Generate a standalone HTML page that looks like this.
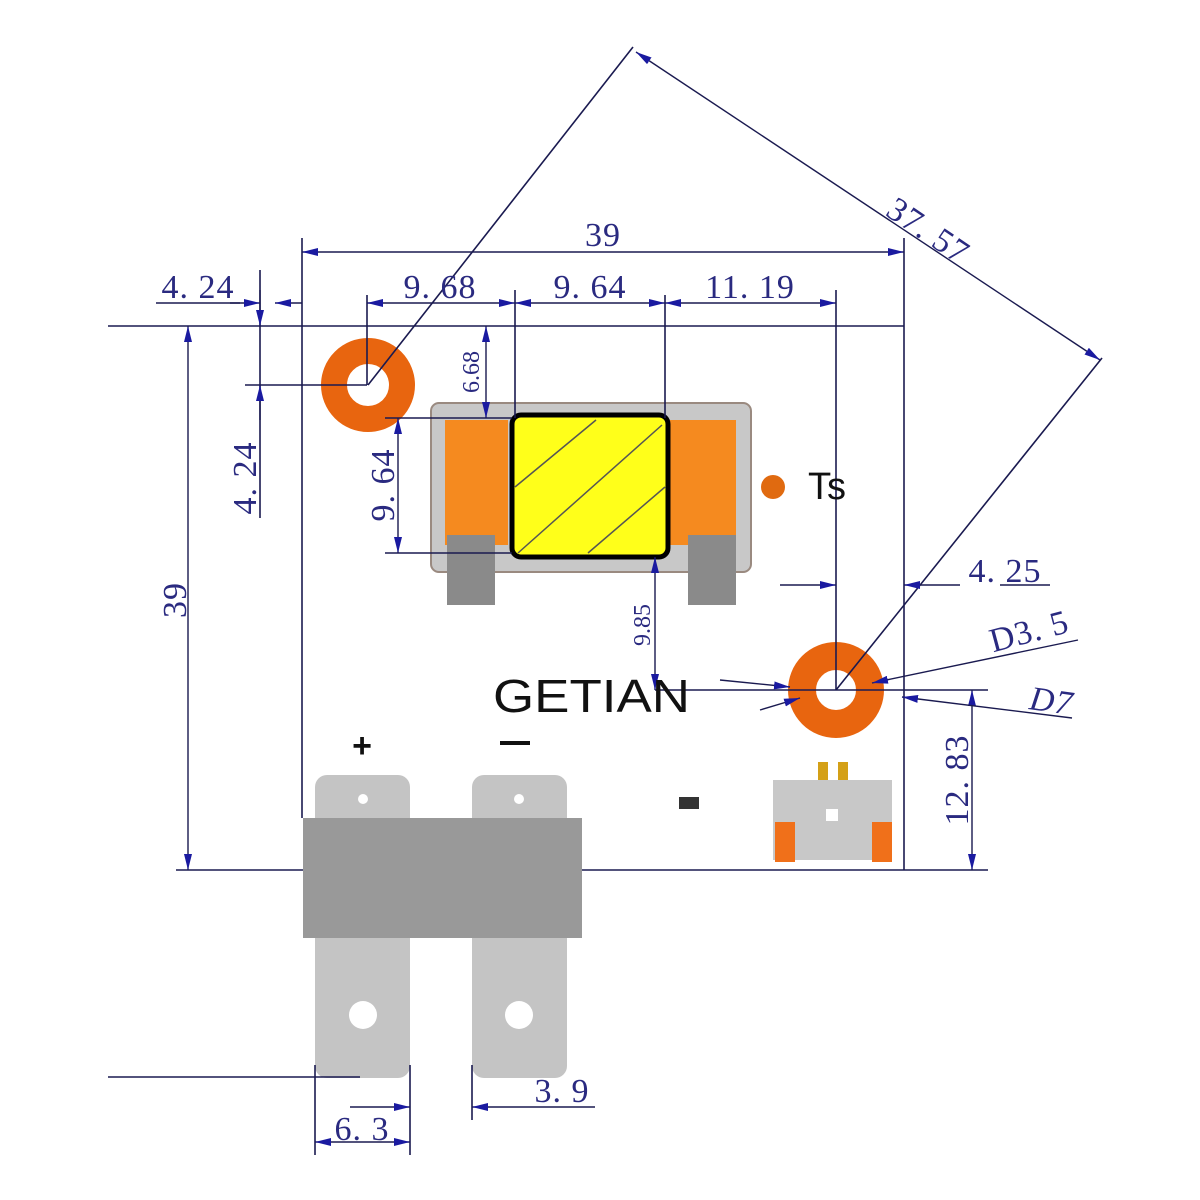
<!DOCTYPE html>
<html><head><meta charset="utf-8"><style>html,body{margin:0;padding:0;background:#fff}svg{display:block}</style></head>
<body>
<svg width="1200" height="1200" viewBox="0 0 1200 1200" xmlns="http://www.w3.org/2000/svg">
<defs>
<marker id="a" viewBox="0 0 16 8" refX="16" refY="4" markerWidth="16" markerHeight="8" orient="auto-start-reverse" markerUnits="userSpaceOnUse"><path d="M0,0 L16,4 L0,8 Z" fill="#1a1aa0"/></marker>
</defs>
<rect width="1200" height="1200" fill="#fff"/>
<rect x="431" y="403" width="320" height="169" rx="8" fill="#c8c8c8" stroke="#9a8a80" stroke-width="2"/>
<rect x="445" y="420" width="63" height="125" fill="#f58a1f"/>
<rect x="670" y="420" width="66" height="125" fill="#f58a1f"/>
<rect x="447" y="535" width="48" height="70" fill="#8a8a8a"/>
<rect x="688" y="535" width="48" height="70" fill="#8a8a8a"/>
<rect x="512" y="415" width="156" height="142" rx="9" fill="#ffff1a" stroke="#000" stroke-width="5"/>
<g stroke="#555" stroke-width="1.5"><line x1="515" y1="487" x2="596" y2="420"/><line x1="518" y1="553" x2="662" y2="425"/><line x1="588" y1="553" x2="665" y2="487"/></g>
<circle cx="368" cy="385" r="34" fill="none" stroke="#e8650f" stroke-width="26"/>
<circle cx="836" cy="690" r="34" fill="none" stroke="#e8650f" stroke-width="28"/>
<circle cx="773" cy="487" r="12" fill="#e06a10"/>
<rect x="315" y="775" width="95" height="303" rx="12" fill="#c4c4c4"/>
<rect x="472" y="775" width="95" height="303" rx="12" fill="#c4c4c4"/>
<rect x="303" y="818" width="279" height="120" fill="#999"/>
<circle cx="363" cy="799" r="5" fill="#fff"/><circle cx="519" cy="799" r="5" fill="#fff"/>
<circle cx="363" cy="1015" r="14" fill="#fff"/><circle cx="519" cy="1015" r="14" fill="#fff"/>
<rect x="679" y="797" width="20" height="12" fill="#333"/>
<rect x="818" y="762" width="10" height="20" fill="#d4a017"/><rect x="838" y="762" width="10" height="20" fill="#d4a017"/>
<rect x="773" y="780" width="119" height="80" fill="#c8c8c8"/>
<rect x="775" y="822" width="20" height="40" fill="#f0701a"/><rect x="872" y="822" width="20" height="40" fill="#f0701a"/>
<rect x="826" y="809" width="12" height="12" fill="#fff"/>
<g stroke="#1a1a50" stroke-width="1.6" fill="none">
<line x1="108" y1="326" x2="904" y2="326"/>
<line x1="302" y1="238" x2="302" y2="818"/>
<line x1="904" y1="238" x2="904" y2="870"/>
<line x1="176" y1="870" x2="303" y2="870"/><line x1="582" y1="870" x2="988" y2="870"/>
<line x1="260" y1="270" x2="260" y2="518"/>
<line x1="367" y1="295" x2="367" y2="385"/>
<line x1="515" y1="290" x2="515" y2="418"/>
<line x1="665" y1="295" x2="665" y2="418"/>
<line x1="836" y1="290" x2="836" y2="690"/>
<line x1="245" y1="385" x2="367" y2="385"/>
<line x1="385" y1="418" x2="512" y2="418"/>
<line x1="385" y1="553" x2="512" y2="553"/>
<line x1="655" y1="690" x2="988" y2="690"/>
<line x1="368" y1="385" x2="633" y2="47"/>
<line x1="836" y1="690" x2="1102" y2="358"/>
<line x1="108" y1="1077" x2="360" y2="1077"/>
<line x1="315" y1="1065" x2="315" y2="1155"/>
<line x1="410" y1="1065" x2="410" y2="1155"/>
<line x1="472" y1="1065" x2="472" y2="1120"/>
<line x1="156" y1="303" x2="240" y2="303"/>
<line x1="1000" y1="585" x2="1050" y2="585"/>
<line x1="780" y1="585" x2="800" y2="585"/>
</g>
<g stroke="#1a1a50" stroke-width="1.4" fill="none" marker-end="url(#a)" marker-start="url(#a)">
<line x1="302" y1="252" x2="904" y2="252"/>
<line x1="188" y1="326" x2="188" y2="870"/>
<line x1="367" y1="303" x2="515" y2="303"/>
<line x1="515" y1="303" x2="665" y2="303"/>
<line x1="665" y1="303" x2="836" y2="303"/>
<line x1="486" y1="326" x2="486" y2="418"/>
<line x1="398" y1="418" x2="398" y2="553"/>
<line x1="655" y1="557" x2="655" y2="690"/>
<line x1="972" y1="690" x2="972" y2="870"/>
<line x1="636" y1="52" x2="1100" y2="360"/>
<line x1="315" y1="1142" x2="410" y2="1142"/>
</g>
<g stroke="#1a1a50" stroke-width="1.4" fill="none" marker-end="url(#a)">
<line x1="230" y1="303" x2="260" y2="303"/>
<line x1="302" y1="303" x2="275" y2="303"/>
<line x1="260" y1="290" x2="260" y2="326"/>
<line x1="260" y1="420" x2="260" y2="385"/>
<line x1="800" y1="585" x2="836" y2="585"/>
<line x1="960" y1="585" x2="904" y2="585"/>
<line x1="350" y1="1107" x2="410" y2="1107"/>
<line x1="595" y1="1107" x2="472" y2="1107"/>
<line x1="720" y1="680" x2="790" y2="687"/>
<line x1="1078" y1="640" x2="872" y2="683"/>
<line x1="760" y1="710" x2="800" y2="698"/>
<line x1="1072" y1="718" x2="902" y2="697"/>
</g>
<g font-family="Liberation Serif, serif" font-size="34" fill="#2a2a80" letter-spacing="1">
<text x="603" y="246" text-anchor="middle">39</text>
<text x="198" y="298" text-anchor="middle">4. 24</text>
<text x="440" y="298" text-anchor="middle">9. 68</text>
<text x="590" y="298" text-anchor="middle">9. 64</text>
<text x="750" y="298" text-anchor="middle">11. 19</text>
<text transform="translate(186,600) rotate(-90)" text-anchor="middle">39</text>
<text transform="translate(256,478) rotate(-90)" text-anchor="middle">4. 24</text>
<text transform="translate(479,372) rotate(-90)" text-anchor="middle" font-size="24" letter-spacing="0">6.68</text>
<text transform="translate(394,485) rotate(-90)" text-anchor="middle">9. 64</text>
<text transform="translate(650,625) rotate(-90)" text-anchor="middle" font-size="24" letter-spacing="0">9.85</text>
<text transform="translate(968,780) rotate(-90)" text-anchor="middle">12. 83</text>
<text transform="translate(922,240) rotate(34)" text-anchor="middle">37. 57</text>
<text x="1005" y="582" text-anchor="middle">4. 25</text>
<text transform="translate(1032,642) rotate(-15)" text-anchor="middle">D3. 5</text>
<text transform="translate(1050,712) rotate(8)" text-anchor="middle" font-style="italic">D7</text>
<text x="562" y="1102" text-anchor="middle">3. 9</text>
<text x="362" y="1140" text-anchor="middle">6. 3</text>
</g>
<g font-family="Liberation Sans, sans-serif" fill="#111">
<text x="808" y="499" font-size="38">Ts</text>
<text x="493" y="712" font-size="46" textLength="197" lengthAdjust="spacingAndGlyphs">GETIAN</text>
<text x="362" y="757" font-size="34" font-weight="bold" text-anchor="middle">+</text>
<rect x="500" y="741" width="30" height="4" fill="#111"/>
</g>
</svg>
</body></html>
